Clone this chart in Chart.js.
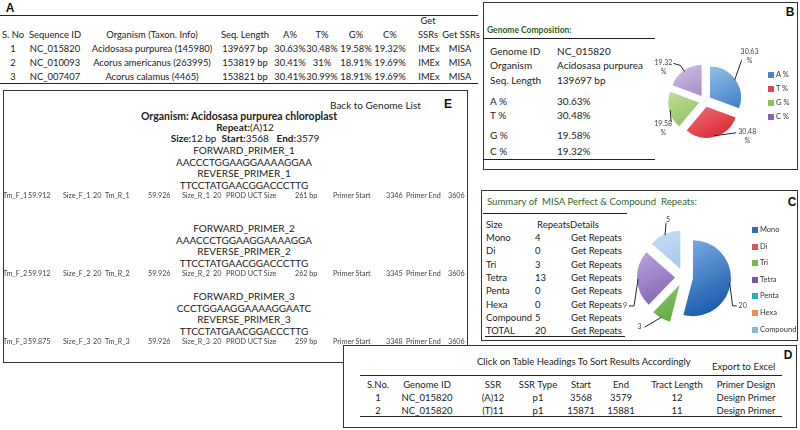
<!DOCTYPE html>
<html>
<head>
<meta charset="utf-8">
<script src="https://cdn.jsdelivr.net/npm/chart.js@4.4.1/dist/chart.umd.min.js"></script>
<style>
  html, body { margin: 0; padding: 0; background: #fff; }
  #page { position: relative; width: 800px; height: 430px; overflow: hidden; font-family: Lato, 'Noto Sans', sans-serif; color: #222; }
  .t { position: absolute; white-space: nowrap; line-height: 1; }
  .tiny { will-change: transform; }
  .box { position: absolute; border: 1.5px solid #333; background: #fff; box-sizing: border-box; }
  .hl { position: absolute; height: 0; }
  canvas { position: absolute; }
</style>
</head>
<body>
<div id="page"></div>
<script>
// ---- panel A: genome list ----
const genomeHead = ['S. No', 'Sequence ID', 'Organism (Taxon. Info)', 'Seq. Length', 'A%', 'T%', 'G%', 'C%'];
const genomeIds = ['NC_015820', 'NC_010093', 'NC_007407'];
const organisms = ['Acidosasa purpurea (145980)', 'Acorus americanus (263995)', 'Acorus calamus (4465)'];
const seqLengths = ['139697 bp', '153819 bp', '153821 bp'];
const pctA = ['30.63%', '30.41%', '30.41%'];
const pctT = ['30.48%', '31%', '30.99%'];
const pctG = ['19.58%', '18.91%', '18.91%'];
const pctC = ['19.32%', '19.69%', '19.69%'];

// ---- panel B: genome composition ----
const compLabels = ['A %', 'T %', 'G %', 'C %'];
const compValues = [30.63, 30.48, 19.58, 19.32];
const compInfo = [['Genome ID', 'NC_015820'], ['Organism', 'Acidosasa purpurea'], ['Seq. Length', '139697 bp'],
  ['A %', '30.63%'], ['T %', '30.48%'], ['G %', '19.58%'], ['C %', '19.32%']];

// ---- panel C: MISA repeats ----
const repeatLabels = ['Mono', 'Di', 'Tri', 'Tetra', 'Penta', 'Hexa', 'Compound'];
const repeatTable = [4, 0, 3, 13, 0, 0, 5];
const repeatTotal = 20;
const repeatPie = [20, 0, 3, 9, 0, 0, 5];

// ---- panel D: SSR list ----
const ssrHead = ['S.No.', 'Genome ID', 'SSR', 'SSR Type', 'Start', 'End', 'Tract Length', 'Primer Design'];
const ssrNames = ['(A)12', '(T)11'];
const ssrTypes = ['p1', 'p1'];
const ssrStart = [3568, 15871];
const ssrEnd = [3579, 15881];
const ssrTract = [12, 11];

// ---- panel E: primers ----
const fwdPrimers = ['AACCCTGGAAGGAAAAGGAA', 'AAACCCTGGAAGGAAAAGGA', 'CCCTGGAAGGAAAAGGAATC'];
const revPrimers = ['TTCCTATGAACGGACCCTTG', 'TTCCTATGAACGGACCCTTG', 'TTCCTATGAACGGACCCTTG'];
const tmF = ['59.912', '59.912', '59.875'];
const tmR = ['59.926', '59.926', '59.926'];
const productSize = ['261 bp', '262 bp', '259 bp'];
const primerStart = [3346, 3345, 3348];
const primerEnd = [3606, 3606, 3606];

const page = document.getElementById('page');

function put(text, x, y, o) {
  o = o || {};
  const d = document.createElement('div');
  d.className = 't' + (o.cls ? ' ' + o.cls : '');
  d.textContent = text;
  d.style.fontSize = (o.size || 10) + 'px';
  if (o.bold) d.style.fontWeight = 'bold';
  if (o.color) d.style.color = o.color;
  if (o.family) d.style.fontFamily = o.family;
  d.style.left = x + 'px';
  d.style.top = y + 'px';
  const tx = o.align === 'c' ? '-50%' : (o.align === 'r' ? '-100%' : '0');
  d.style.transform = `translate(${tx},-50%)`;
  page.appendChild(d);
  return d;
}
function hline(x1, x2, y, w, color) {
  const d = document.createElement('div');
  d.className = 'hl';
  d.style.left = x1 + 'px';
  d.style.top = y + 'px';
  d.style.width = (x2 - x1) + 'px';
  d.style.borderTop = (w || 1) + 'px solid ' + (color || '#222');
  page.appendChild(d);
}
function box(x, y, w, h) {
  const d = document.createElement('div');
  d.className = 'box';
  Object.assign(d.style, { left: x + 'px', top: y + 'px', width: w + 'px', height: h + 'px' });
  page.appendChild(d);
}
const tag = (s, x, y) => put(s, x, y, { size: 12, bold: true, family: "'Liberation Sans', Arial, sans-serif", align: 'c', color: '#111' });

// ===== A =====
tag('A', 10, 8);
hline(0, 478, 15, 1.5);
const colA = [13, 55, 152, 245, 290, 322, 356, 390];
const fa = 9.4;
genomeHead.forEach((h, i) => put(h, colA[i], 35, { align: 'c', size: fa }));
put('Get', 428, 21, { align: 'c', size: fa });
put('SSRs', 428, 35, { align: 'c', size: fa });
put('Get SSRs', 461, 35, { align: 'c', size: fa });
genomeIds.forEach((id, r) => {
  const y = 49 + r * 14;
  const cells = [String(r + 1), id, organisms[r], seqLengths[r], pctA[r], pctT[r], pctG[r], pctC[r]];
  cells.forEach((c, i) => put(c, colA[i], y, { align: 'c', size: fa }));
  put('IMEx', 429, y, { align: 'c', size: fa });
  put('MISA', 460, y, { align: 'c', size: fa });
});
hline(0, 478, 83, 1.5);

// ===== E =====
box(3, 90, 465, 273);
tag('E', 448, 104);
put('Back to Genome List', 330, 105);
put('Organism: Acidosasa purpurea chloroplast', 239, 116, { bold: true, align: 'c', size: 10.5 });
const rep = put('', 245, 127, { align: 'c' });
rep.innerHTML = '<b>Repeat:</b>(A)12';
const sz = put('', 245, 138, { align: 'c' });
sz.innerHTML = '<b>Size:</b>12 bp&nbsp; <b>Start:</b>3568&nbsp;&nbsp; <b>End:</b>3579';
const blockY = [150, 228, 296];
const tmX = [3, 28, 63, 93, 105, 148, 182, 213, 226, 295, 333, 386, 406, 448];
fwdPrimers.forEach((p, k) => {
  const y0 = blockY[k];
  const n = k + 1;
  put('FORWARD_PRIMER_' + n, 244, y0, { align: 'c' });
  put(p, 244, y0 + 11.5, { align: 'c' });
  put('REVERSE_PRIMER_' + n, 244, y0 + 23, { align: 'c' });
  put(revPrimers[k], 244, y0 + 34.5, { align: 'c' });
  const toks = ['Tm_F_' + n, tmF[k], 'Size_F_' + n, '20', 'Tm_R_' + n, tmR[k], 'Size_R_' + n, '20',
    'PROD UCT Size', productSize[k], 'Primer Start', String(primerStart[k]), 'Primer End', String(primerEnd[k])];
  toks.forEach((s, i) => put(s, tmX[i], y0 + 46, { size: 7.2, color: '#444', cls: 'tiny' }));
});

// ===== B =====
box(483, 2, 315, 168);
tag('B', 790, 12);
put('Genome Composition:', 487, 30, { bold: true, size: 8.5, color: '#2f5f1f' });
hline(483, 655, 38, 1);
const infoY = [51, 65, 80, 101, 115, 135, 151];
compInfo.forEach((r, i) => {
  put(r[0], 490, infoY[i], { size: 10 });
  put(r[1], 557, infoY[i], { size: 10 });
});
hline(483, 655, 159, 1.2);

// ===== C =====
box(481, 190, 317, 151);
tag('C', 792, 202);
put('Summary of\u00a0 MISA Perfect & Compound\u00a0 Repeats:', 487, 202, { size: 9.6, color: '#2e6a2e' });
hline(483, 627, 213, 1.2);
const fc = 9.5;
put('Size', 486, 225, { size: fc });
put('RepeatsDetails', 537, 225, { size: fc });
repeatLabels.forEach((l, i) => {
  const y = 238 + i * 13.3;
  put(l, 486, y, { size: fc });
  put(String(repeatTable[i]), 535, y, { size: fc });
  put('Get Repeats', 571, y, { size: fc });
});
put('TOTAL', 486, 331, { size: fc });
put(String(repeatTotal), 535, 331, { size: fc });
put('Get Repeats', 571, 331, { size: fc });
hline(485, 625, 336, 1.2);

// ===== D =====
box(343, 345, 454, 83);
tag('D', 788, 355);
put('Click on Table Headings To Sort Results Accordingly', 477, 362, { size: 9.5 });
put('Export to Excel', 712, 367, { size: 9.5 });
hline(360, 782, 375, 1.5);
const colD = [378, 427, 493, 538, 581, 621, 677, 746];
ssrHead.forEach((h, i) => put(h, colD[i], 385, { align: 'c', size: 9.5 }));
ssrNames.forEach((s, r) => {
  const y = 398 + r * 12.5;
  const cells = [String(r + 1), 'NC_015820', s, ssrTypes[r], String(ssrStart[r]), String(ssrEnd[r]), String(ssrTract[r]), 'Design Primer'];
  cells.forEach((c, i) => put(c, colD[i], y, { align: 'c', size: 9.5 }));
});
hline(360, 782, 416, 1.2);

// ===== pies =====
function shiftArcs(meta, d) {
  meta.data.forEach(arc => {
    const mid = (arc.startAngle + arc.endAngle) / 2;
    arc.x += Math.cos(mid) * d;
    arc.y += Math.sin(mid) * d;
  });
}
const explodePlugin = {
  id: 'explode',
  beforeDatasetDraw(chart, args, opts) { shiftArcs(args.meta, opts.distance || 0); },
  afterDatasetDraw(chart, args, opts) { shiftArcs(args.meta, -(opts.distance || 0)); }
};
const leaderPlugin = {
  id: 'leaders',
  afterDatasetsDraw(chart, args, opts) {
    const ctx = chart.ctx;
    const meta = chart.getDatasetMeta(0);
    const values = chart.data.datasets[0].data;
    const d = chart.options.plugins.explode.distance || 0;
    ctx.save();
    ctx.strokeStyle = '#222';
    ctx.lineWidth = 1;
    ctx.fillStyle = '#444';
    ctx.font = '7px Lato, sans-serif';
    ctx.textAlign = 'center';
    ctx.textBaseline = 'middle';
    meta.data.forEach((arc, i) => {
      const v = values[i];
      if (!v) return;
      const mid = (arc.startAngle + arc.endAngle) / 2;
      const ex = arc.x + Math.cos(mid) * (d + arc.outerRadius - 1);
      const ey = arc.y + Math.sin(mid) * (d + arc.outerRadius - 1);
      const pts = opts.paths[i];
      ctx.beginPath();
      ctx.moveTo(ex, ey);
      pts.forEach(p => ctx.lineTo(ex + p[0], ey + p[1]));
      ctx.stroke();
      const last = pts[pts.length - 1];
      const tc = opts.text[i];
      const lines = opts.format(v);
      const lh = 9;
      const cx = ex + last[0] + tc[0];
      const cy = ey + last[1] + tc[1] - (lines.length - 1) * lh / 2;
      lines.forEach((s, k) => ctx.fillText(s, cx, cy + k * lh));
    });
    ctx.restore();
  }
};

function gradientFill(pairs, radius) {
  return function (c) {
    const pair = pairs[c.dataIndex];
    const chart = c.chart;
    const area = chart.chartArea;
    if (!area) return pair[1];
    const cy = (area.top + area.bottom) / 2;
    const cx = (area.left + area.right) / 2;
    const g = chart.ctx.createLinearGradient(cx - radius * 0.5, cy - radius, cx + radius * 0.5, cy + radius);
    g.addColorStop(0, pair[0]);
    g.addColorStop(1, pair[1]);
    return g;
  };
}

function legend(labels, colors, x, y0, step) {
  labels.forEach((l, i) => {
    const y = y0 + i * step;
    const b = document.createElement('div');
    Object.assign(b.style, { position: 'absolute', left: x + 'px', top: (y - 3) + 'px', width: '6px', height: '6px', background: colors[i] });
    page.appendChild(b);
    put(l, x + 8, y, { size: 7.5, color: '#333' });
  });
}

function makePie(id, left, top, size, labels, values, pairs, radius, distance, paths, text, format) {
  const cv = document.createElement('canvas');
  cv.id = id;
  cv.width = size; cv.height = size;
  cv.style.left = left + 'px';
  cv.style.top = top + 'px';
  page.appendChild(cv);
  return new Chart(cv, {
    type: 'pie',
    data: {
      labels: labels,
      datasets: [{
        data: values,
        backgroundColor: gradientFill(pairs, radius),
        borderWidth: 0
      }]
    },
    options: {
      responsive: false,
      animation: false,
      events: [],
      radius: radius,
      layout: { padding: 0 },
      plugins: {
        legend: { display: false },
        tooltip: { enabled: false },
        explode: { distance: distance },
        leaders: { paths: paths, text: text, format: format }
      }
    },
    plugins: [explodePlugin, leaderPlugin]
  });
}

// B pie: centre (705,101)
const compPairs = [['#9cc6ee', '#2b6fbd'], ['#f8a9ac', '#df323c'], ['#cbe5a8', '#7cb447'], ['#c5b2df', '#7854a6']];
makePie('compChart', 635, 31, 140, compLabels, compValues, compPairs, 31, 6,
  [[[7, -20]], [[22, -3]], [[1, 12]], [[-4, -6], [-11, -8]]],
  [[8, -4], [11, 3.5], [-8, 6.5], [-10, 4]],
  v => [v.toFixed(2), '%']);
legend(compLabels, ['#4a86c8', '#e0474f', '#8cc152', '#8a65b5'], 768, 75, 14);

// C pie: centre (684,277)
const repeatPairs = [['#86b8ea', '#1d5dae'], ['#f08080', '#d03a3a'], ['#b6e097', '#56a536'], ['#bba4dc', '#68449e'],
  ['#6fd0e0', '#1aa0b8'], ['#f7b58a', '#e8793e'], ['#bdd8f3', '#7eaee2']];
makePie('repeatChart', 614, 207, 140, repeatLabels, repeatPie, repeatPairs, 38, 9,
  [[[3, 23], [7, 23]], [[0, 0]], [[-17, 10]], [[-4, 27], [-9, 27]], [[0, 0]], [[0, 0]], [[1, -12]]],
  [[6, 0], [0, 0], [-5, 0], [-4, 0], [0, 0], [0, 0], [2, -3]],
  v => [String(v)]);
legend(repeatLabels, ['#2f6db5', '#d9535b', '#72b84a', '#7a55a8', '#25adc6', '#f08c52', '#8ab5e2'], 752, 230, 16.6);
</script>
</body>
</html>
